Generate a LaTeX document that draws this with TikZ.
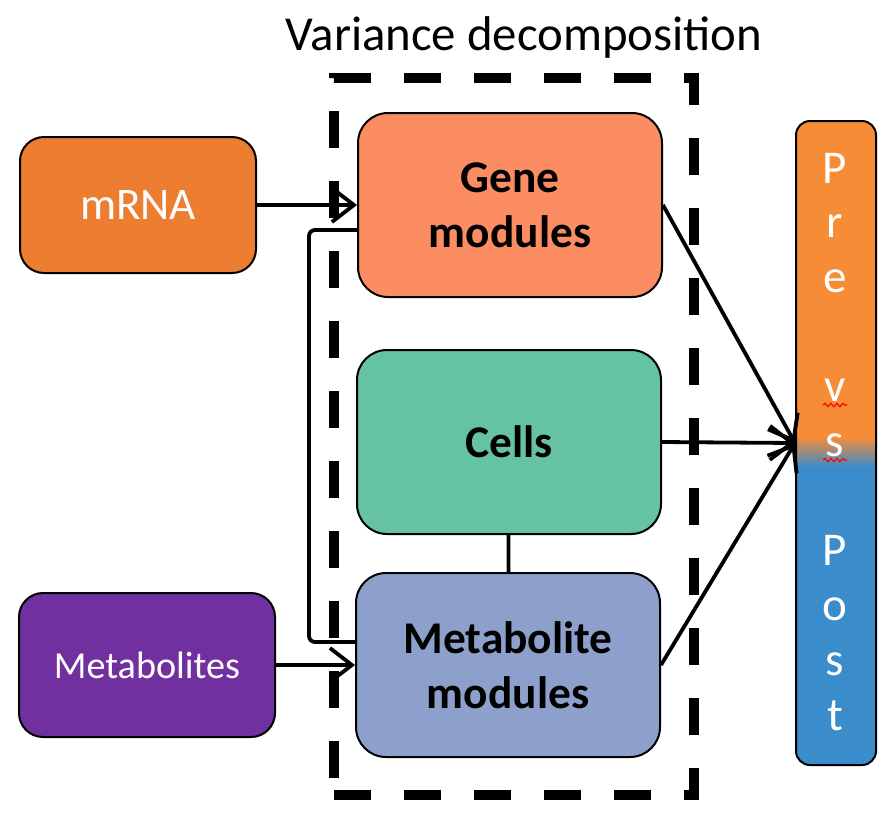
\documentclass[tikz,border=0pt]{standalone}
\usepackage{fontspec}
\setmainfont{Carlito}
\usetikzlibrary{arrows.meta,decorations.pathmorphing}
\definecolor{mrnaorange}{HTML}{ED7D31}
\definecolor{metpurple}{HTML}{7030A0}
\definecolor{genesalmon}{HTML}{FC8D62}
\definecolor{cellgreen}{HTML}{66C2A5}
\definecolor{metblue}{HTML}{8DA0CB}
\definecolor{preorange}{HTML}{F68C36}
\definecolor{postblue}{HTML}{3A8CCB}
\tikzset{
  box/.style={draw, line width=1pt, rounded corners=15pt, align=center, inner sep=0pt},
  inbox/.style={box, minimum width=152pt, minimum height=92pt, font=\fontsize{22.7}{27.5}\selectfont\bfseries},
  outbox/.style={box, rounded corners=12pt, text=white},
  link/.style={line width=1.9pt},
  arr/.style={link, -{Straight Barb[length=11pt, width=17pt, line width=1.9pt]}},
  letter/.style={text=white, anchor=base, inner sep=0pt, font=\fontsize{23.5}{26}\selectfont},
  squig/.style={red, line width=0.6pt, decorate, decoration={snake, amplitude=0.8pt, segment length=3pt}}
}
\newcommand{\cut}{437}
\begin{document}
\begin{tikzpicture}[x=0.5pt, y=-0.5pt]
  \useasboundingbox (0,0) rectangle (894,832);
  \node[font=\fontsize{24.4}{29}\selectfont, anchor=base, inner sep=0pt] (title) at (524,50) {Variance decomposition};
  \node[draw, line width=5pt, dash pattern=on 18.5pt off 16.5pt, minimum width=180pt, minimum height=358.5pt, inner sep=0pt] (vd) at (514,436.5) {};

  \node[outbox, fill=mrnaorange, minimum width=118pt, minimum height=68pt, font=\fontsize{22.6}{26}\selectfont] (mrna) at (138,205) {mRNA};
  \node[outbox, fill=metpurple, minimum width=128pt, minimum height=72pt, font=\fontsize{19.1}{23}\selectfont] (metab) at (147,665) {Metabolites};
  \node[inbox, fill=genesalmon] (gene) at (510,205) {Gene\\modules};
  \node[inbox, fill=cellgreen] (cells) at (509,442) {Cells};
  \node[inbox, fill=metblue] (metmod) at (508,665) {Metabolite\\modules};

  \begin{scope}
    \clip[rounded corners=7pt] (796,121) rectangle (876,765);
    \fill[preorange] (790,110) rectangle (880,\cut);
    \shade[top color=preorange, bottom color=postblue] (790,\cut) rectangle (880,\cut+30);
    \fill[postblue] (790,\cut+30) rectangle (880,770);
  \end{scope}
  \node[draw, line width=1pt, rounded corners=7pt, minimum width=40pt, minimum height=322pt, inner sep=0pt] (bar) at (836,443) {};
  \foreach \c [count=\i from 0] in {P,r,e,{},v,s,{},P,o,s,t}
    \node[letter] (l\i) at (835,{183+54.7*\i}) {\c};
  \draw[squig] (823,405) -- (847,405);
  \draw[squig] (823,460) -- (847,460);

  \draw[arr] (mrna) -- (gene);
  \draw[arr] (metab) -- (metmod);
  \draw[arr] (gene.east) -- (bar.west);
  \draw[arr] (cells.east) -- (bar.west);
  \draw[arr] (metmod.east) -- (bar.west);
  \draw[link] (cells) -- (metmod);
  \draw[link, rounded corners=3pt] ([yshift=-12.5pt]gene.west) -- ++(-48,0) |- ([yshift=11.5pt]metmod.west);
\end{tikzpicture}
\end{document}
